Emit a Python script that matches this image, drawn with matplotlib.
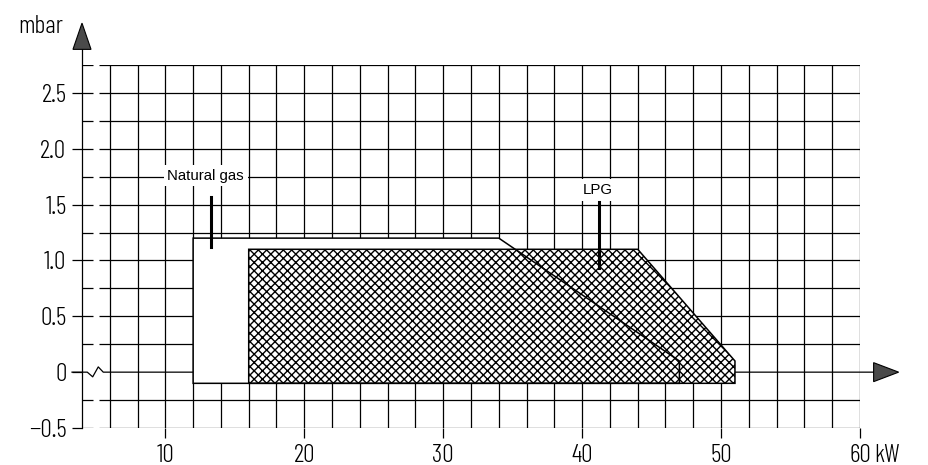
import numpy as np
import matplotlib.pyplot as plt
from matplotlib.patches import Polygon

plt.rcParams['font.family'] = ['Barlow Condensed', 'DejaVu Sans']
plt.rcParams['font.weight'] = 300
plt.rcParams['hatch.linewidth'] = 1.0

# Operating ranges (kW, mbar)
ng_kw = [12, 12, 34, 47, 47]
ng_mbar = [-0.1, 1.2, 1.2, 0.1, -0.1]
lpg_kw = [16, 16, 44, 51, 51]
lpg_mbar = [-0.1, 1.1, 1.1, 0.1, -0.1]

x_ticks = [10, 20, 30, 40, 50, 60]
x_labels = ['10', '20', '30', '40', '50', '60']
y_ticks = [-0.5, 0, 0.5, 1.0, 1.5, 2.0, 2.5]
y_labels = ['\u22120.5', '0', '0.5', '1.0', '1.5', '2.0', '2.5']

grid_x = np.arange(4, 61, 2)
grid_y = np.arange(-0.5, 2.76, 0.25)

fig = plt.figure(figsize=(9.29, 4.65), dpi=100)
ax = fig.add_axes([82 / 929, 37 / 465, 778 / 929, 363 / 465])
ax.set_xlim(4, 60)
ax.set_ylim(-0.5, 2.75)
for s in ax.spines.values():
    s.set_visible(False)

lw = 0.9
# grid, horizontals have a small break next to the axis
ax.vlines(grid_x[1:], -0.5, 2.75, color='k', lw=lw, zorder=1)
for y in grid_y:
    if abs(y) < 1e-9:
        continue
    ax.plot([4, 4.8], [y, y], color='k', lw=lw, zorder=1, solid_capstyle='butt')
    ax.plot([5.2, 60], [y, y], color='k', lw=lw, zorder=1, solid_capstyle='butt')

# zero line with break mark, y axis line
ax.plot([3.28, 4.38, 4.77, 5.17, 5.53, 60.98], [0, 0, -0.042, 0.047, 0, 0],
        color='k', lw=lw, zorder=1, clip_on=False)
ax.plot([4, 4], [-0.5, 2.89], color='k', lw=lw, zorder=1, clip_on=False)

# axis arrows
ax.add_patch(Polygon([[3.35, 2.89], [4.65, 2.89], [4, 3.125]], closed=True,
                     facecolor='#4a4a4a', edgecolor='k', lw=0.8, clip_on=False, zorder=3))
ax.add_patch(Polygon([[60.98, -0.085], [60.98, 0.085], [62.78, 0]], closed=True,
                     facecolor='#4a4a4a', edgecolor='k', lw=0.8, clip_on=False, zorder=3))

# working fields
ax.add_patch(Polygon(np.column_stack([ng_kw, ng_mbar]), closed=True,
                     facecolor='white', edgecolor='none', zorder=2))
ax.add_patch(Polygon(np.column_stack([lpg_kw, lpg_mbar]), closed=True,
                     facecolor='white', edgecolor='k', hatch='xxxx', lw=1.1, zorder=3))
ax.add_patch(Polygon(np.column_stack([ng_kw, ng_mbar]), closed=True,
                     facecolor='none', edgecolor='k', lw=1.1, zorder=4))

lab_font = dict(family=['Liberation Sans', 'DejaVu Sans'], fontsize=10.8, weight='normal')
box = dict(boxstyle='square,pad=0.25', facecolor='white', edgecolor='none')
ax.text(12.9, 1.76, 'Natural gas', ha='center', va='center', bbox=box, zorder=5, **lab_font)
ax.plot([13.25, 13.25], [1.12, 1.57], color='k', lw=2.2, zorder=5)
ax.text(41.15, 1.63, 'LPG', ha='center', va='center', bbox=box, zorder=5, **lab_font)
ax.plot([41.2, 41.2], [0.93, 1.52], color='k', lw=2.2, zorder=5)

ax.set_xticks(x_ticks)
ax.set_xticklabels(x_labels)
ax.set_yticks(y_ticks)
ax.set_yticklabels(y_labels)
ax.tick_params(axis='both', direction='out', length=7.2, width=lw, labelsize=18.5, pad=4)

ax.annotate('kW', xy=(61.05, -0.5), xytext=(0, -11.2), textcoords='offset points',
            ha='left', va='top', fontsize=18.5, annotation_clip=False)
ax.text(2.63, 3.04, 'mbar', ha='right', va='baseline', fontsize=18.5, clip_on=False)

fig.savefig('out.png', dpi=100)
